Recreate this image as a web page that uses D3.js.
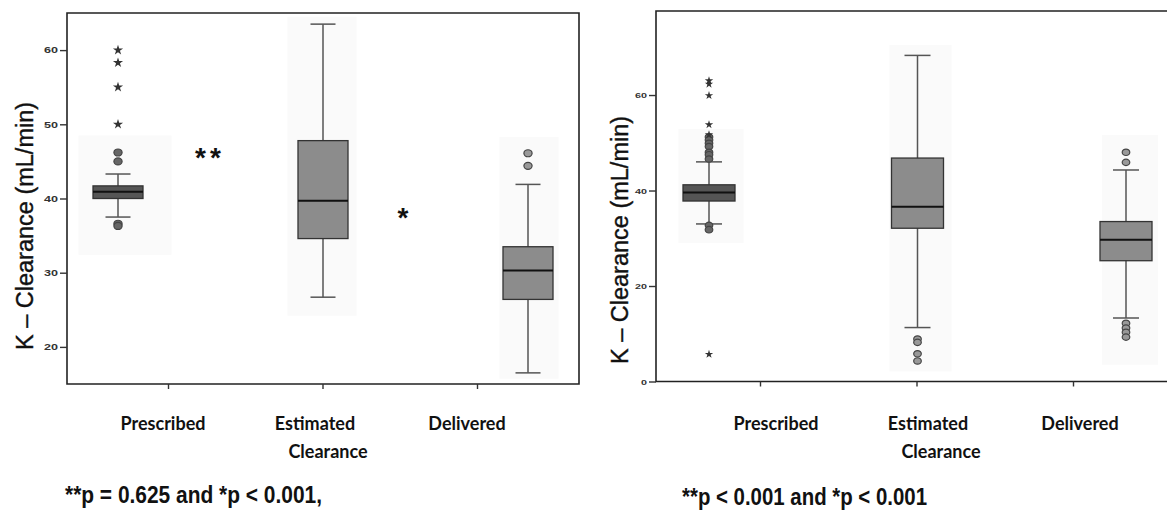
<!DOCTYPE html>
<html>
<head>
<meta charset="utf-8">
<script src="https://cdn.jsdelivr.net/npm/d3@7"></script>
<style>
  body { margin: 0; background: #fff; }
</style>
</head>
<body>
<div class="svg-wrap"></div>
<script>
// categories shared by both panels
const categories = ["Prescribed", "Estimated Clearance", "Delivered"];
const labelLines = [["Prescribed"], ["Estimated", "Clearance"], ["Delivered"]];

// left panel values (mL/min)
const leftQ1 = [40.0, 34.6, 26.4];
const leftMedian = [40.9, 39.7, 30.3];
const leftQ3 = [41.7, 47.8, 33.5];
const leftWhiskerLo = [37.5, 26.7, 16.5];
const leftWhiskerHi = [43.3, 63.5, 41.9];
const leftCircles = [[46.2, 45.0, 36.6, 36.3], [], [46.1, 44.4]];
const leftStars = [[60.0, 58.3, 55.0, 50.0], [], []];
const leftPanelLo = [32.4, 24.2, 15.7];
const leftPanelHi = [48.5, 64.5, 48.3];
const leftTicks = [20, 30, 40, 50, 60];
const leftSigMarks = ["**", "*"];
const leftSigValues = [45.8, 37.8];
const leftNote = "**p = 0.625 and *p < 0.001,";

// right panel values (mL/min)
const rightQ1 = [37.8, 32.1, 25.3];
const rightMedian = [39.6, 36.6, 29.7];
const rightQ3 = [41.2, 46.8, 33.5];
const rightWhiskerLo = [33.0, 11.3, 13.3];
const rightWhiskerHi = [46.0, 68.3, 44.3];
const rightCircles = [[51.2, 50.6, 49.9, 49.2, 48.0, 47.5, 46.6, 32.7, 31.8],
                      [8.9, 8.2, 5.8, 4.3],
                      [48.0, 45.9, 12.2, 11.2, 10.3, 9.3]];
const rightStars = [[63.0, 62.3, 59.9, 53.8, 51.7, 5.7], [], []];
const rightPanelLo = [29.0, 2.1, 3.5];
const rightPanelHi = [52.9, 70.5, 51.6];
const rightTicks = [0, 20, 40, 60];
const rightNote = "**p < 0.001 and *p < 0.001";

const axisLabel = "K \u2013 Clearance (mL/min)";

let svg = d3.select(".svg-wrap")
  .append("svg")
  .attr("width", 1167)
  .attr("height", 515)
  .style("background-color", "white");

function drawPanel(d, L) {
  let g = svg.append("g");
  let y = d3.scaleLinear().domain(L.domain).range([L.y1, L.y0]);
  let xTick = d3.scalePoint().domain(categories).range(L.tickRange);
  let xBox = d3.scalePoint().domain(categories).range(L.boxRange);
  let xLab = d3.scalePoint().domain(categories).range(L.labelRange);

  // faint backdrop behind each box
  g.selectAll(".backdrop")
    .data(categories)
    .enter()
    .append("rect")
    .attr("x", (c, i) => xBox(c) + L.panelDx[i] - L.panelW[i] / 2)
    .attr("width", (c, i) => L.panelW[i])
    .attr("y", (c, i) => y(d.panelHi[i]))
    .attr("height", (c, i) => y(d.panelLo[i]) - y(d.panelHi[i]))
    .style("fill", "#fafafa");

  // frame
  g.append("path")
    .attr("d", L.closed
      ? `M${L.x0},${L.y0}H${L.x1}V${L.y1}H${L.x0}Z`
      : `M${L.x1},${L.y0}H${L.x0}V${L.y1}H${L.x1}`)
    .style("fill", "none")
    .style("stroke", "#222")
    .style("stroke-width", 1.6);

  // y axis
  let yAxis = d3.axisLeft(y).tickValues(d.ticks).tickSize(7).tickPadding(2);
  let ya = g.append("g")
    .attr("transform", `translate(${L.x0},0)`)
    .call(yAxis);
  ya.select(".domain").remove();
  ya.selectAll("line").style("stroke", "#333").style("stroke-width", 1.4);
  ya.selectAll("text")
    .style("font-family", "Liberation Sans, Arial, sans-serif")
    .style("font-weight", "bold")
    .style("font-size", L.tickFont + "px")
    .style("fill", "#333")
    .attr("textLength", v => String(v).length * L.digitW)
    .attr("lengthAdjust", "spacingAndGlyphs");

  // x axis ticks
  let xAxis = d3.axisBottom(xTick).tickSize(5).tickFormat("");
  let xa = g.append("g")
    .attr("transform", `translate(0,${L.y1})`)
    .call(xAxis);
  xa.select(".domain").remove();
  xa.selectAll("line").style("stroke", "#333").style("stroke-width", 1.4);

  // category labels
  categories.forEach((c, i) => {
    labelLines[i].forEach((t, j) => {
      g.append("text")
        .attr("x", xLab(c) + j * 13)
        .attr("y", 430 + j * 28)
        .attr("text-anchor", "middle")
        .style("font-family", "Lato, sans-serif")
        .style("font-weight", "bold")
        .style("font-size", "18px")
        .style("fill", "#111")
        .text(t);
    });
  });

  // y label
  g.append("text")
    .attr("transform", `translate(${L.labelX},${L.labelY}) rotate(-90)`)
    .attr("text-anchor", "middle")
    .style("font-family", "Liberation Sans, Arial, sans-serif")
    .style("font-size", "23.5px")
    .style("fill", "#111")
    .style("stroke", "#111")
    .style("stroke-width", 0.4)
    .text(axisLabel);

  // whiskers
  g.selectAll(".whisker")
    .data(categories)
    .enter()
    .append("line")
    .attr("x1", c => xBox(c))
    .attr("x2", c => xBox(c))
    .attr("y1", (c, i) => y(d.whiskerLo[i]))
    .attr("y2", (c, i) => y(d.whiskerHi[i]))
    .style("stroke", "#555")
    .style("stroke-width", 1.5);

  ["whiskerLo", "whiskerHi"].forEach(k => {
    g.selectAll(".cap-" + k)
      .data(categories)
      .enter()
      .append("line")
      .attr("x1", c => xBox(c) - L.boxW / 4)
      .attr("x2", c => xBox(c) + L.boxW / 4)
      .attr("y1", (c, i) => y(d[k][i]))
      .attr("y2", (c, i) => y(d[k][i]))
      .style("stroke", "#555")
      .style("stroke-width", 1.5);
  });

  // boxes
  g.selectAll(".box")
    .data(categories)
    .enter()
    .append("rect")
    .attr("x", c => xBox(c) - L.boxW / 2)
    .attr("width", L.boxW)
    .attr("y", (c, i) => y(d.q3[i]))
    .attr("height", (c, i) => y(d.q1[i]) - y(d.q3[i]))
    .style("fill", (c, i) => i === 0 ? "#555" : "#8c8c8c")
    .style("stroke", "#333")
    .style("stroke-width", 1.3);

  g.selectAll(".median")
    .data(categories)
    .enter()
    .append("line")
    .attr("x1", c => xBox(c) - L.boxW / 2)
    .attr("x2", c => xBox(c) + L.boxW / 2)
    .attr("y1", (c, i) => y(d.median[i]))
    .attr("y2", (c, i) => y(d.median[i]))
    .style("stroke", "#111")
    .style("stroke-width", 2);

  // outliers
  let circ = [];
  d.circles.forEach((arr, i) => arr.forEach(v => circ.push({ c: categories[i], v: v, i: i })));
  g.selectAll(".out")
    .data(circ)
    .enter()
    .append("ellipse")
    .attr("cx", p => xBox(p.c))
    .attr("cy", p => y(p.v))
    .attr("rx", L.dotR + 0.6)
    .attr("ry", L.dotR)
    .style("fill", p => p.i === 0 ? "#666" : "#999")
    .style("stroke", "#444")
    .style("stroke-width", 1.2);

  let stars = [];
  d.stars.forEach((arr, i) => arr.forEach(v => stars.push({ c: categories[i], v: v })));
  g.selectAll(".star")
    .data(stars)
    .enter()
    .append("path")
    .attr("d", d3.symbol(d3.symbolStar, L.starSize))
    .attr("transform", p => `translate(${xBox(p.c)},${y(p.v)})`)
    .style("fill", "#333");

  // significance marks
  if (d.sigMarks) {
    d.sigMarks.forEach((m, i) => {
      g.append("text")
        .attr("x", L.sigX[i])
        .attr("y", y(d.sigValues[i]) + 12)
        .attr("text-anchor", "middle")
        .style("font-family", "Liberation Sans, Arial, sans-serif")
        .style("font-weight", "bold")
        .style("font-size", "28px")
        .style("letter-spacing", "4px")
        .style("fill", "#111")
        .text(m);
    });
  }

  // p-value note
  g.append("text")
    .attr("x", L.noteX)
    .attr("y", L.noteY)
    .attr("textLength", L.noteW)
    .attr("lengthAdjust", "spacingAndGlyphs")
    .style("font-family", "Liberation Sans Narrow, Liberation Sans, Arial, sans-serif")
    .style("font-weight", "bold")
    .style("font-size", "24px")
    .style("fill", "#111")
    .text(d.note);
}

drawPanel({
  q1: leftQ1, median: leftMedian, q3: leftQ3,
  whiskerLo: leftWhiskerLo, whiskerHi: leftWhiskerHi,
  circles: leftCircles, stars: leftStars,
  panelLo: leftPanelLo, panelHi: leftPanelHi,
  ticks: leftTicks, sigMarks: leftSigMarks, sigValues: leftSigValues,
  note: leftNote
}, {
  domain: [15, 65], x0: 67, x1: 579, y0: 13, y1: 384, closed: true,
  tickRange: [168, 477], boxRange: [118, 528], labelRange: [163, 467],
  boxW: 50, panelW: [93, 69, 59], panelDx: [7, -1, 1],
  tickFont: 9, digitW: 7, dotR: 3.5, starSize: 32,
  labelX: 33, labelY: 226, sigX: [210, 405],
  noteX: 65, noteY: 503, noteW: 257
});

drawPanel({
  q1: rightQ1, median: rightMedian, q3: rightQ3,
  whiskerLo: rightWhiskerLo, whiskerHi: rightWhiskerHi,
  circles: rightCircles, stars: rightStars,
  panelLo: rightPanelLo, panelHi: rightPanelHi,
  ticks: rightTicks, note: rightNote
}, {
  domain: [0, 77.6], x0: 656, x1: 1175, y0: 11, y1: 381.5, closed: false,
  tickRange: [760, 1073], boxRange: [709, 1126], labelRange: [776, 1080],
  boxW: 52, panelW: [65, 62, 56], panelDx: [2, 3, 4],
  tickFont: 8, digitW: 6, dotR: 3.2, starSize: 22,
  labelX: 628, labelY: 240, sigX: [],
  noteX: 682, noteY: 505, noteW: 245
});
</script>
</body>
</html>
